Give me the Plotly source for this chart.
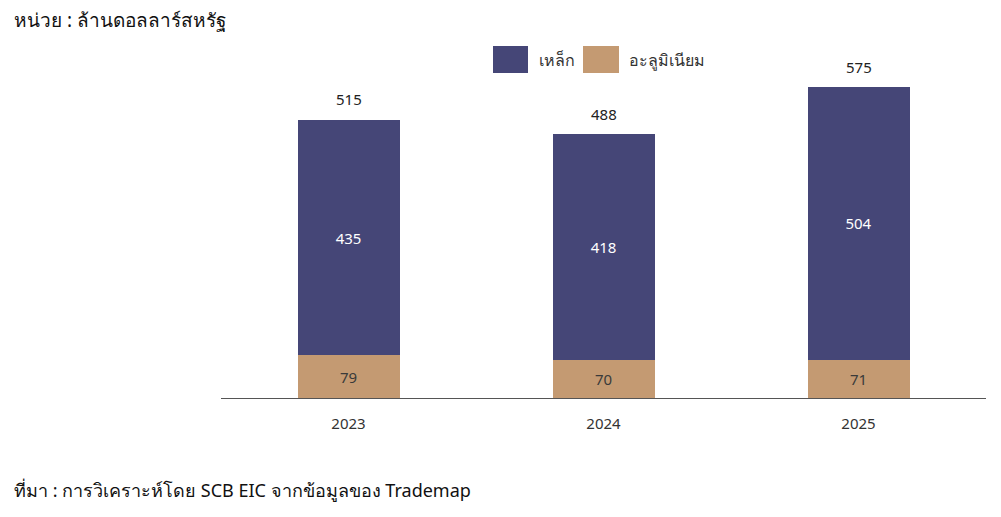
import plotly.graph_objects as go

years = ["2023", "2024", "2025"]
steel = [435, 418, 504]
aluminium = [79, 70, 71]
totals = [515, 488, 575]
series_names = ["เหล็ก", "อะลูมิเนียม"]

C_STEEL = "#454677"
C_ALU = "#C49A72"
FONT = "Noto Sans, Tahoma, sans-serif"

W, H = 1001, 517
L, R, T, B = 221, 15, 63, 119
pw, ph = W - L - R, H - T - B

def px(x):
    return (x - L) / pw

def py(y):
    return (H - B - y) / ph

fig = go.Figure()
fig.add_trace(go.Bar(
    x=years, y=aluminium, name=series_names[1], marker_color=C_ALU, marker_line_width=0,
    text=[str(v) for v in aluminium], textposition="inside", insidetextanchor="middle",
    textfont=dict(color="#3a3a3a", size=15, family=FONT), width=0.4,
))
fig.add_trace(go.Bar(
    x=years, y=steel, name=series_names[0], marker_color=C_STEEL, marker_line_width=0,
    text=[str(v) for v in steel], textposition="inside", insidetextanchor="middle",
    textfont=dict(color="white", size=15, family=FONT), width=0.4,
))

# total labels (category index positions on the category axis)
for i, t in enumerate(totals):
    fig.add_annotation(x=i, y=t, xref="x", yref="y", text=str(t), showarrow=False,
                       yanchor="bottom", yshift=8,
                       font=dict(size=15, color="#222", family=FONT))

# manual legend
legend_items = [(series_names[0], C_STEEL, 493, 528, 537), (series_names[1], C_ALU, 583, 619, 627)]
for name, col, x0, x1, tx in legend_items:
    fig.add_shape(type="rect", xref="paper", yref="paper", x0=px(x0), x1=px(x1),
                  y0=py(73), y1=py(46), fillcolor=col, line_width=0)
    fig.add_annotation(xref="paper", yref="paper", x=px(tx), y=py(60), text=name,
                       showarrow=False, xanchor="left", yanchor="middle",
                       font=dict(size=16, color="#333", family=FONT))

fig.add_annotation(xref="paper", yref="paper", x=px(12), y=py(20),
                   text="หน่วย : ล้านดอลลาร์สหรัฐ", showarrow=False,
                   xanchor="left", yanchor="middle", font=dict(size=19, color="#111", family=FONT))
fig.add_annotation(xref="paper", yref="paper", x=px(12), y=py(490),
                   text="ที่มา : การวิเคราะห์โดย SCB EIC จากข้อมูลของ Trademap", showarrow=False,
                   xanchor="left", yanchor="middle", font=dict(size=18, color="#111", family=FONT))

fig.update_layout(
    barmode="stack", width=W, height=H,
    margin=dict(l=L, r=R, t=T, b=B),
    plot_bgcolor="white", paper_bgcolor="white",
    showlegend=False,
    xaxis=dict(type="category", range=[-0.5, 2.5], showline=True, linecolor="#555", linewidth=1,
               ticks="outside", ticklen=12, tickcolor="rgba(0,0,0,0)",
               tickfont=dict(size=15, color="#333", family=FONT), showgrid=False),
    yaxis=dict(range=[0, 619], visible=False, showgrid=False),
    uniformtext=dict(mode=False),
)

fig.write_html("out.html")
